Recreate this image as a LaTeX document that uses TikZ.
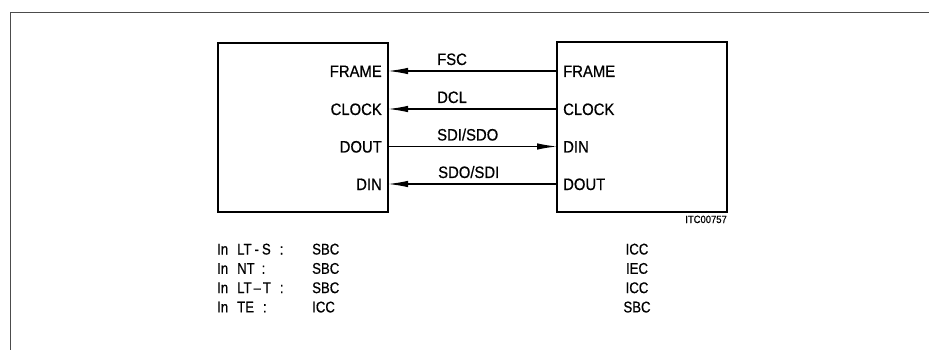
\documentclass[tikz,border=0pt]{standalone}
\usepackage{fontspec}
\setmainfont{Liberation Sans}
\newfontfamily\lblfont[FakeStretch=0.9, FakeBold=0.6]{Liberation Sans}
\newfontfamily\notefont[FakeStretch=0.85, FakeBold=0.6]{Liberation Sans}
\usetikzlibrary{arrows.meta}
\begin{document}
\begin{tikzpicture}[x=1pt,y=-1pt,
  box/.style={draw, line width=1.8pt, inner sep=0pt},
  lbl/.style={font=\lblfont\fontsize{16.5}{19}\selectfont, inner sep=0pt},
  note/.style={font=\notefont\fontsize{15.5}{18}\selectfont, inner sep=0pt},
  tiny/.style={font=\lblfont\fontsize{10.5}{12}\selectfont, inner sep=0pt},
  sig/.style={line width=1.3pt},
  tip/.style={-{Latex[length=20pt,width=6.5pt]}},
  frame/.style={line width=1pt, black!70}]
\useasboundingbox (0,0) rectangle (929,350);
% outer frame (top and left only)
\draw[frame] (929,13) -- (10,13) -- (10,350);
% boxes
\node[box, minimum width=170pt, minimum height=169pt] (lbox) at (303,127.5) {};
\node[box, minimum width=170pt, minimum height=170pt] (rbox) at (642,127) {};
% pins
\coordinate (lF)  at (388,71);
\coordinate (lC)  at (388,109);
\coordinate (lDO) at (388,146.5);
\coordinate (lDI) at (388,184);
\coordinate (rF)  at (557,71);
\coordinate (rC)  at (557,109);
\coordinate (rDI) at (557,146.5);
\coordinate (rDO) at (557,184);
% pin labels
\node[lbl, anchor=base east] (tlF)  at (382,77)  {FRAME};
\node[lbl, anchor=base east] (tlC)  at (382,115) {CLOCK};
\node[lbl, anchor=base east] (tlDO) at (382,152.5) {DOUT};
\node[lbl, anchor=base east] (tlDI) at (382,190) {DIN};
\node[lbl, anchor=base west] (trF)  at (563,77)  {FRAME};
\node[lbl, anchor=base west] (trC)  at (563,115) {CLOCK};
\node[lbl, anchor=base west] (trDI) at (563,152.5) {DIN};
\node[lbl, anchor=base west] (trDO) at (563,190) {DOUT};
% connectors
\draw[sig, tip] (rF) -- (lF);
\draw[sig, tip] (rC) -- (lC);
\draw[sig, tip] (lDO) -- (rDI);
\draw[sig, tip] (rDO) -- (lDI);
% line labels
\node[lbl, anchor=base west] (fsc) at (437,65)  {FSC};
\node[lbl, anchor=base west] (dcl) at (437,103) {DCL};
\node[lbl, anchor=base west] (sdi) at (437,140.5) {SDI/SDO};
\node[lbl, anchor=base west] (sdo) at (438,178) {SDO/SDI};
% drawing number
\node[tiny, anchor=base east] (num) at (727,223) {ITC00757};
% table
\node[note, anchor=base west] (r1a) at (217,254.5) {In\hspace{9pt}LT\hspace{3pt}-\hspace{3pt}S\hspace{9pt}:};
\node[note, anchor=base west] (r2a) at (217,273.8) {In\hspace{9pt}NT\hspace{7pt}:};
\node[note, anchor=base west] (r3a) at (217,293.1) {In\hspace{9pt}LT\hspace{2pt}–\hspace{2pt}T\hspace{9pt}:};
\node[note, anchor=base west] (r4a) at (217,312.4) {In\hspace{9pt}TE\hspace{9pt}:};
\node[note, anchor=base west] (r1b) at (312,254.5) {SBC};
\node[note, anchor=base west] (r2b) at (312,273.8) {SBC};
\node[note, anchor=base west] (r3b) at (312,293.1) {SBC};
\node[note, anchor=base west] (r4b) at (312,312.4) {ICC};
\node[note, anchor=base] (r1c) at (637,254.5) {ICC};
\node[note, anchor=base] (r2c) at (637,273.8) {IEC};
\node[note, anchor=base] (r3c) at (637,293.1) {ICC};
\node[note, anchor=base] (r4c) at (637,312.4) {SBC};
\end{tikzpicture}
\end{document}
